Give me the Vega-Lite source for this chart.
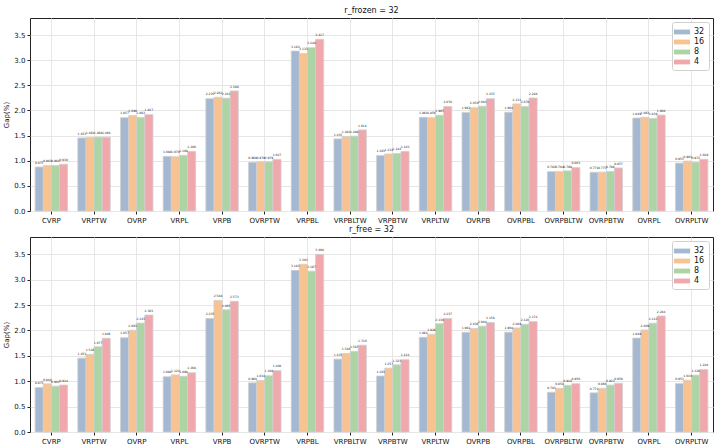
{
  "$schema": "https://vega.github.io/schema/vega-lite/v6.json",
  "background": "white",
  "padding": {"left": 2, "top": 6, "right": 1, "bottom": 0},
  "data": {"name": "gaps"},
  "datasets": {
    "gaps": [
      {"panel": "frozen", "task": "CVRP", "r": "32", "gap": 0.875},
      {"panel": "frozen", "task": "CVRP", "r": "16", "gap": 0.903},
      {"panel": "frozen", "task": "CVRP", "r": "8", "gap": 0.904},
      {"panel": "frozen", "task": "CVRP", "r": "4", "gap": 0.930},
      {"panel": "frozen", "task": "VRPTW", "r": "32", "gap": 1.453},
      {"panel": "frozen", "task": "VRPTW", "r": "16", "gap": 1.462},
      {"panel": "frozen", "task": "VRPTW", "r": "8", "gap": 1.468},
      {"panel": "frozen", "task": "VRPTW", "r": "4", "gap": 1.468},
      {"panel": "frozen", "task": "OVRP", "r": "32", "gap": 1.857},
      {"panel": "frozen", "task": "OVRP", "r": "16", "gap": 1.898},
      {"panel": "frozen", "task": "OVRP", "r": "8", "gap": 1.862},
      {"panel": "frozen", "task": "OVRP", "r": "4", "gap": 1.917},
      {"panel": "frozen", "task": "VRPL", "r": "32", "gap": 1.088},
      {"panel": "frozen", "task": "VRPL", "r": "16", "gap": 1.079},
      {"panel": "frozen", "task": "VRPL", "r": "8", "gap": 1.108},
      {"panel": "frozen", "task": "VRPL", "r": "4", "gap": 1.186},
      {"panel": "frozen", "task": "VRPB", "r": "32", "gap": 2.235},
      {"panel": "frozen", "task": "VRPB", "r": "16", "gap": 2.262},
      {"panel": "frozen", "task": "VRPB", "r": "8", "gap": 2.243},
      {"panel": "frozen", "task": "VRPB", "r": "4", "gap": 2.389},
      {"panel": "frozen", "task": "OVRPTW", "r": "32", "gap": 0.968},
      {"panel": "frozen", "task": "OVRPTW", "r": "16", "gap": 0.979},
      {"panel": "frozen", "task": "OVRPTW", "r": "8", "gap": 0.979},
      {"panel": "frozen", "task": "OVRPTW", "r": "4", "gap": 1.027},
      {"panel": "frozen", "task": "VRPBL", "r": "32", "gap": 3.183},
      {"panel": "frozen", "task": "VRPBL", "r": "16", "gap": 3.133},
      {"panel": "frozen", "task": "VRPBL", "r": "8", "gap": 3.248},
      {"panel": "frozen", "task": "VRPBL", "r": "4", "gap": 3.417},
      {"panel": "frozen", "task": "VRPBLTW", "r": "32", "gap": 1.435},
      {"panel": "frozen", "task": "VRPBLTW", "r": "16", "gap": 1.482},
      {"panel": "frozen", "task": "VRPBLTW", "r": "8", "gap": 1.488},
      {"panel": "frozen", "task": "VRPBLTW", "r": "4", "gap": 1.614},
      {"panel": "frozen", "task": "VRPBTW", "r": "32", "gap": 1.103},
      {"panel": "frozen", "task": "VRPBTW", "r": "16", "gap": 1.134},
      {"panel": "frozen", "task": "VRPBTW", "r": "8", "gap": 1.144},
      {"panel": "frozen", "task": "VRPBTW", "r": "4", "gap": 1.183},
      {"panel": "frozen", "task": "VRPLTW", "r": "32", "gap": 1.864},
      {"panel": "frozen", "task": "VRPLTW", "r": "16", "gap": 1.856},
      {"panel": "frozen", "task": "VRPLTW", "r": "8", "gap": 1.905},
      {"panel": "frozen", "task": "VRPLTW", "r": "4", "gap": 2.078},
      {"panel": "frozen", "task": "OVRPB", "r": "32", "gap": 1.962},
      {"panel": "frozen", "task": "OVRPB", "r": "16", "gap": 2.054},
      {"panel": "frozen", "task": "OVRPB", "r": "8", "gap": 2.083},
      {"panel": "frozen", "task": "OVRPB", "r": "4", "gap": 2.235},
      {"panel": "frozen", "task": "OVRPBL", "r": "32", "gap": 1.964},
      {"panel": "frozen", "task": "OVRPBL", "r": "16", "gap": 2.131},
      {"panel": "frozen", "task": "OVRPBL", "r": "8", "gap": 2.078},
      {"panel": "frozen", "task": "OVRPBL", "r": "4", "gap": 2.248},
      {"panel": "frozen", "task": "OVRPBLTW", "r": "32", "gap": 0.783},
      {"panel": "frozen", "task": "OVRPBLTW", "r": "16", "gap": 0.784},
      {"panel": "frozen", "task": "OVRPBLTW", "r": "8", "gap": 0.798},
      {"panel": "frozen", "task": "OVRPBLTW", "r": "4", "gap": 0.863},
      {"panel": "frozen", "task": "OVRPBTW", "r": "32", "gap": 0.771},
      {"panel": "frozen", "task": "OVRPBTW", "r": "16", "gap": 0.773},
      {"panel": "frozen", "task": "OVRPBTW", "r": "8", "gap": 0.786},
      {"panel": "frozen", "task": "OVRPBTW", "r": "4", "gap": 0.857},
      {"panel": "frozen", "task": "OVRPL", "r": "32", "gap": 1.849},
      {"panel": "frozen", "task": "OVRPL", "r": "16", "gap": 1.863},
      {"panel": "frozen", "task": "OVRPL", "r": "8", "gap": 1.839},
      {"panel": "frozen", "task": "OVRPL", "r": "4", "gap": 1.908},
      {"panel": "frozen", "task": "OVRPLTW", "r": "32", "gap": 0.953},
      {"panel": "frozen", "task": "OVRPLTW", "r": "16", "gap": 0.993},
      {"panel": "frozen", "task": "OVRPLTW", "r": "8", "gap": 0.972},
      {"panel": "frozen", "task": "OVRPLTW", "r": "4", "gap": 1.029},
      {"panel": "free", "task": "CVRP", "r": "32", "gap": 0.875},
      {"panel": "free", "task": "CVRP", "r": "16", "gap": 0.948},
      {"panel": "free", "task": "CVRP", "r": "8", "gap": 0.902},
      {"panel": "free", "task": "CVRP", "r": "4", "gap": 0.924},
      {"panel": "free", "task": "VRPTW", "r": "32", "gap": 1.453},
      {"panel": "free", "task": "VRPTW", "r": "16", "gap": 1.528},
      {"panel": "free", "task": "VRPTW", "r": "8", "gap": 1.677},
      {"panel": "free", "task": "VRPTW", "r": "4", "gap": 1.846},
      {"panel": "free", "task": "OVRP", "r": "32", "gap": 1.857},
      {"panel": "free", "task": "OVRP", "r": "16", "gap": 2.003},
      {"panel": "free", "task": "OVRP", "r": "8", "gap": 2.145},
      {"panel": "free", "task": "OVRP", "r": "4", "gap": 2.303},
      {"panel": "free", "task": "VRPL", "r": "32", "gap": 1.088},
      {"panel": "free", "task": "VRPL", "r": "16", "gap": 1.124},
      {"panel": "free", "task": "VRPL", "r": "8", "gap": 1.098},
      {"panel": "free", "task": "VRPL", "r": "4", "gap": 1.168},
      {"panel": "free", "task": "VRPB", "r": "32", "gap": 2.235},
      {"panel": "free", "task": "VRPB", "r": "16", "gap": 2.588},
      {"panel": "free", "task": "VRPB", "r": "8", "gap": 2.405},
      {"panel": "free", "task": "VRPB", "r": "4", "gap": 2.573},
      {"panel": "free", "task": "OVRPTW", "r": "32", "gap": 0.968},
      {"panel": "free", "task": "OVRPTW", "r": "16", "gap": 1.014},
      {"panel": "free", "task": "OVRPTW", "r": "8", "gap": 1.108},
      {"panel": "free", "task": "OVRPTW", "r": "4", "gap": 1.208},
      {"panel": "free", "task": "VRPBL", "r": "32", "gap": 3.183},
      {"panel": "free", "task": "VRPBL", "r": "16", "gap": 3.303},
      {"panel": "free", "task": "VRPBL", "r": "8", "gap": 3.167},
      {"panel": "free", "task": "VRPBL", "r": "4", "gap": 3.498},
      {"panel": "free", "task": "VRPBLTW", "r": "32", "gap": 1.435},
      {"panel": "free", "task": "VRPBLTW", "r": "16", "gap": 1.546},
      {"panel": "free", "task": "VRPBLTW", "r": "8", "gap": 1.587},
      {"panel": "free", "task": "VRPBLTW", "r": "4", "gap": 1.710},
      {"panel": "free", "task": "VRPBTW", "r": "32", "gap": 1.103},
      {"panel": "free", "task": "VRPBTW", "r": "16", "gap": 1.257},
      {"panel": "free", "task": "VRPBTW", "r": "8", "gap": 1.323},
      {"panel": "free", "task": "VRPBTW", "r": "4", "gap": 1.424},
      {"panel": "free", "task": "VRPLTW", "r": "32", "gap": 1.864},
      {"panel": "free", "task": "VRPLTW", "r": "16", "gap": 1.926},
      {"panel": "free", "task": "VRPLTW", "r": "8", "gap": 2.130},
      {"panel": "free", "task": "VRPLTW", "r": "4", "gap": 2.237},
      {"panel": "free", "task": "OVRPB", "r": "32", "gap": 1.962},
      {"panel": "free", "task": "OVRPB", "r": "16", "gap": 2.036},
      {"panel": "free", "task": "OVRPB", "r": "8", "gap": 2.084},
      {"panel": "free", "task": "OVRPB", "r": "4", "gap": 2.158},
      {"panel": "free", "task": "OVRPBL", "r": "32", "gap": 1.964},
      {"panel": "free", "task": "OVRPBL", "r": "16", "gap": 2.049},
      {"panel": "free", "task": "OVRPBL", "r": "8", "gap": 2.120},
      {"panel": "free", "task": "OVRPBL", "r": "4", "gap": 2.174},
      {"panel": "free", "task": "OVRPBLTW", "r": "32", "gap": 0.783},
      {"panel": "free", "task": "OVRPBLTW", "r": "16", "gap": 0.858},
      {"panel": "free", "task": "OVRPBLTW", "r": "8", "gap": 0.918},
      {"panel": "free", "task": "OVRPBLTW", "r": "4", "gap": 0.950},
      {"panel": "free", "task": "OVRPBTW", "r": "32", "gap": 0.771},
      {"panel": "free", "task": "OVRPBTW", "r": "16", "gap": 0.860},
      {"panel": "free", "task": "OVRPBTW", "r": "8", "gap": 0.923},
      {"panel": "free", "task": "OVRPBTW", "r": "4", "gap": 0.959},
      {"panel": "free", "task": "OVRPL", "r": "32", "gap": 1.849},
      {"panel": "free", "task": "OVRPL", "r": "16", "gap": 2.009},
      {"panel": "free", "task": "OVRPL", "r": "8", "gap": 2.143},
      {"panel": "free", "task": "OVRPL", "r": "4", "gap": 2.284},
      {"panel": "free", "task": "OVRPLTW", "r": "32", "gap": 0.953},
      {"panel": "free", "task": "OVRPLTW", "r": "16", "gap": 1.019},
      {"panel": "free", "task": "OVRPLTW", "r": "8", "gap": 1.120},
      {"panel": "free", "task": "OVRPLTW", "r": "4", "gap": 1.228}
    ]
  },
  "config": {
    "font": "DejaVu Sans",
    "view": {"stroke": "#222222", "strokeWidth": 1},
    "concat": {"spacing": 1},
    "axis": {
      "grid": true,
      "gridColor": "#e6e6e6",
      "gridWidth": 1,
      "domain": false,
      "tickColor": "#222222",
      "tickSize": 3,
      "labelColor": "#111111",
      "labelFontSize": 7,
      "titleFontSize": 7,
      "titleFontWeight": "normal",
      "titleColor": "#111111"
    },
    "title": {"fontSize": 8, "fontWeight": "normal", "color": "#111111", "offset": 3, "fontStyle": "normal"},
    "legend": {
      "orient": "top-right",
      "offset": 4,
      "title": null,
      "labelFontSize": 8,
      "labelColor": "#111111",
      "labelOffset": 6,
      "symbolType": "M-1.35,-0.4 H1.35 V0.4 H-1.35 Z",
      "symbolSize": 144,
      "symbolStrokeWidth": 0,
      "rowPadding": 0,
      "padding": 4,
      "strokeColor": "#d0d0d0",
      "fillColor": "white",
      "cornerRadius": 2
    }
  },
  "resolve": {"scale": {"color": "independent"}},
  "vconcat": [
    {
      "title": "r_frozen = 32",
      "width": 683,
      "height": 193,
      "transform": [{"filter": "datum.panel === 'frozen'"}],
      "encoding": {
        "x": {
          "field": "task", "type": "nominal", "sort": null, "title": null,
          "scale": {"paddingInner": 0.24, "paddingOuter": 0.12},
          "axis": {"labelAngle": 0, "bandPosition": 0.5, "labelPadding": 2}
        },
        "xOffset": {"field": "r", "type": "nominal", "scale": {"domain": ["32", "16", "8", "4"]}},
        "y": {
          "field": "gap", "type": "quantitative", "title": "Gap(%)",
          "scale": {"domain": [0, 3.84], "nice": false, "zero": true},
          "axis": {"values": [0, 0.5, 1, 1.5, 2, 2.5, 3, 3.5], "format": ".1f", "titlePadding": 4}
        }
      },
      "layer": [
        {
          "mark": {"type": "bar", "stroke": "#cfcfcf", "strokeWidth": 0.8},
          "encoding": {
            "color": {
              "field": "r", "type": "nominal",
              "scale": {"domain": ["32", "16", "8", "4"], "range": ["#a5b8d1", "#f8c391", "#acd4a5", "#f0a8ac"]},
              "legend": {}
            }
          }
        },
        {
          "mark": {"type": "text", "fontSize": 3, "dy": -2.5, "baseline": "bottom", "color": "#222222"},
          "encoding": {"text": {"field": "gap", "type": "quantitative", "format": ".3f"}}
        }
      ]
    },
    {
      "title": "r_free = 32",
      "width": 683,
      "height": 195,
      "transform": [{"filter": "datum.panel === 'free'"}],
      "encoding": {
        "x": {
          "field": "task", "type": "nominal", "sort": null, "title": null,
          "scale": {"paddingInner": 0.24, "paddingOuter": 0.12},
          "axis": {"labelAngle": 0, "bandPosition": 0.5, "labelPadding": 2}
        },
        "xOffset": {"field": "r", "type": "nominal", "scale": {"domain": ["32", "16", "8", "4"]}},
        "y": {
          "field": "gap", "type": "quantitative", "title": "Gap(%)",
          "scale": {"domain": [0, 3.84], "nice": false, "zero": true},
          "axis": {"values": [0, 0.5, 1, 1.5, 2, 2.5, 3, 3.5], "format": ".1f", "titlePadding": 4}
        }
      },
      "layer": [
        {
          "mark": {"type": "bar", "stroke": "#cfcfcf", "strokeWidth": 0.8},
          "encoding": {
            "color": {
              "field": "r", "type": "nominal",
              "scale": {"domain": ["32", "16", "8", "4"], "range": ["#a5b8d1", "#f8c391", "#acd4a5", "#f0a8ac"]},
              "legend": {}
            }
          }
        },
        {
          "mark": {"type": "text", "fontSize": 3, "dy": -2.5, "baseline": "bottom", "color": "#222222"},
          "encoding": {"text": {"field": "gap", "type": "quantitative", "format": ".3f"}}
        }
      ]
    }
  ]
}
